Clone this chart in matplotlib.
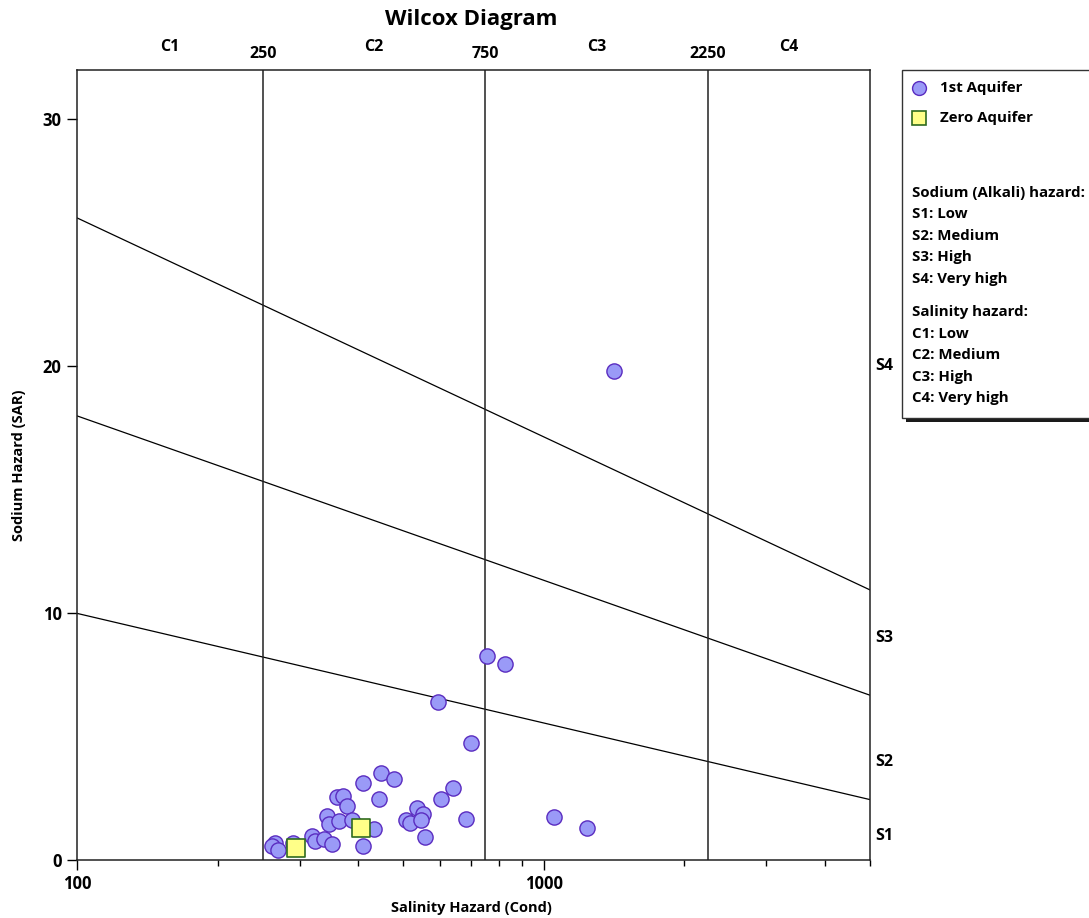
import numpy as np
import matplotlib
matplotlib.use("Agg")
import matplotlib.pyplot as plt
from matplotlib.patches import Rectangle
from matplotlib.lines import Line2D
import matplotlib.transforms as mtransforms
from matplotlib.ticker import FixedLocator, FixedFormatter, NullFormatter, LogLocator

plt.rcParams['font.family'] = ['Open Sans', 'DejaVu Sans']
plt.rcParams['font.weight'] = 'bold'

# ---- data ----
aq1_cond = [265, 262, 269, 290, 318, 324, 339, 351, 344, 347, 365, 360, 372, 378, 389,
            410, 447, 477, 443, 432, 410, 506, 518, 536, 552, 545, 556, 601, 639, 683,
            755, 826, 593, 697, 1054, 1235, 1413]
aq1_sar = [0.70, 0.55, 0.40, 0.70, 0.97, 0.78, 0.84, 0.63, 1.78, 1.45, 1.58, 2.56, 2.59, 2.19, 1.62,
           3.10, 3.53, 3.30, 2.46, 1.25, 0.58, 1.62, 1.48, 2.09, 1.85, 1.62, 0.94, 2.49, 2.92, 1.66,
           8.25, 7.93, 6.38, 4.74, 1.74, 1.28, 19.8]
aq0_cond = [294, 405]
aq0_sar = [0.47, 1.28]

# class boundaries
sal_bounds = [250, 750, 2250]
sal_labels = ['C1', 'C2', 'C3', 'C4']
sal_mid = [158, 433, 1299, 3354]
# SAR boundary lines: SAR = a - b*log10(EC)
sar_a = [18.87, 31.31, 43.75]
sar_b = [4.44, 6.66, 8.87]
s_labels = ['S4', 'S3', 'S2', 'S1']
s_label_y = [20.0, 9.0, 3.95, 0.97]

legend_lines = ['Sodium (Alkali) hazard:', 'S1: Low', 'S2: Medium', 'S3: High', 'S4: Very high',
                None, 'Salinity hazard:', 'C1: Low', 'C2: Medium', 'C3: High', 'C4: Very high']

W, H = 1089, 918
fig = plt.figure(figsize=(W / 100, H / 100), dpi=100)
ax = fig.add_axes([77 / W, 1 - 860 / H, (870 - 77) / W, (860 - 70) / H])

ax.set_xscale('log')
ax.set_xlim(100, 5000)
ax.set_ylim(0, 32)

# boundary lines
xs = np.logspace(2, np.log10(5000), 200)
for a, b in zip(sar_a, sar_b):
    ax.plot(xs, a - b * np.log10(xs), color='black', lw=0.9, zorder=2)
for v in sal_bounds:
    ax.axvline(v, color='#222222', lw=1.1, zorder=2)

circ_face = '#9a9af7'
circ_edge = '#5a2cc0'
ax.scatter(aq1_cond, aq1_sar, s=120, marker='o', facecolor=circ_face, edgecolor=circ_edge,
           linewidths=1.0, zorder=3)
ax.scatter(aq0_cond, aq0_sar, s=165, marker='s', facecolor='#ffff88', edgecolor='#2f6b1f',
           linewidths=1.2, zorder=4)

# ticks
ax.xaxis.set_major_locator(FixedLocator([100, 1000]))
ax.xaxis.set_major_formatter(FixedFormatter(['100', '1000']))
ax.xaxis.set_minor_locator(LogLocator(base=10, subs=np.arange(2, 10)))
ax.xaxis.set_minor_formatter(NullFormatter())
ax.set_yticks([0, 10, 20, 30])
ax.tick_params(axis='both', which='major', direction='out', length=7, width=1.0,
               labelsize=12, pad=4)
ax.tick_params(axis='x', which='minor', direction='out', length=4, width=1.0)
for lab in ax.get_xticklabels() + ax.get_yticklabels():
    lab.set_fontweight('bold')
for sp in ax.spines.values():
    sp.set_color('#222222')
    sp.set_linewidth(1.1)

ax.set_xlabel('Salinity Hazard (Cond)', fontsize=10.5, fontweight='bold')
ax.xaxis.set_label_coords((471 - 77) / (870 - 77), -(908 - 860) / (860 - 70))
ax.set_ylabel('Sodium Hazard (SAR)', fontsize=10.5, fontweight='bold')
ax.yaxis.set_label_coords(-(77 - 19) / (870 - 77), 0.5)
ax.xaxis.label.set_va('center')
ax.yaxis.label.set_va('center')

# top labels
trans_top = mtransforms.blended_transform_factory(ax.transData, ax.transAxes)
for v in sal_bounds:
    ax.text(v, 1.0205, str(v), transform=trans_top, ha='center', va='center',
            fontsize=11.5, fontweight='bold')
for m, lab in zip(sal_mid, sal_labels):
    ax.text(m, 1.0295, lab, transform=trans_top, ha='center', va='center',
            fontsize=11.5, fontweight='bold')

# right labels
trans_right = mtransforms.blended_transform_factory(ax.transAxes, ax.transData)
for yv, lab in zip(s_label_y, s_labels):
    ax.text(1.006, yv, lab, transform=trans_right, ha='left', va='center',
            fontsize=11.5, fontweight='bold')

fig.text(471 / W, 1 - 20 / H, 'Wilcox Diagram', ha='center', va='center',
         fontsize=16, fontweight='bold')

# legend box with shadow
bx0, by0, bx1, by1 = 902, 70, 1100, 418
fig.patches.append(Rectangle(((bx0 + 4) / W, 1 - (by1 + 4) / H), (bx1 - bx0) / W, (by1 - by0) / H,
                             transform=fig.transFigure, facecolor='#1a1a1a', edgecolor='none',
                             zorder=1))
fig.patches.append(Rectangle((bx0 / W, 1 - by1 / H), (bx1 - bx0) / W, (by1 - by0) / H,
                             transform=fig.transFigure, facecolor='white', edgecolor='#333333',
                             linewidth=1.0, zorder=2))

fig.add_artist(Line2D([919 / W], [1 - 88 / H], marker='o', markersize=10,
                      markerfacecolor=circ_face, markeredgecolor=circ_edge, markeredgewidth=1.0,
                      transform=fig.transFigure, zorder=3))
fig.add_artist(Line2D([919 / W], [1 - 118 / H], marker='s', markersize=10,
                      markerfacecolor='#ffff88', markeredgecolor='#2f6b1f', markeredgewidth=1.2,
                      transform=fig.transFigure, zorder=3))
fig.text(940 / W, 1 - 88 / H, '1st Aquifer', ha='left', va='center', fontsize=10.8,
         fontweight='bold', zorder=3)
fig.text(940 / W, 1 - 118 / H, 'Zero Aquifer', ha='left', va='center', fontsize=10.8,
         fontweight='bold', zorder=3)

ypos = 193
for line in legend_lines:
    if line is None:
        ypos += 11.5
        continue
    fig.text(912 / W, 1 - ypos / H, line, ha='left', va='center', fontsize=10.8,
             fontweight='bold', zorder=3)
    ypos += 21.5

fig.savefig('out.png', dpi=100)
